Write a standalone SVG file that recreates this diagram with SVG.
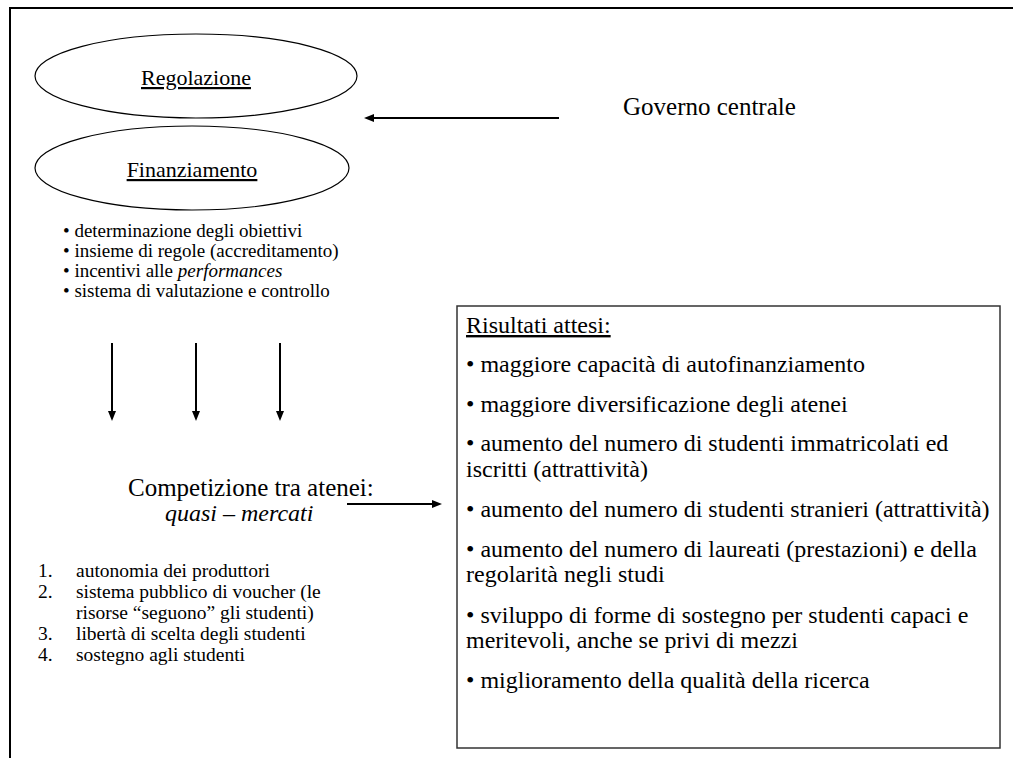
<svg xmlns="http://www.w3.org/2000/svg" width="1013" height="758" viewBox="0 0 1013 758" font-family="'Liberation Serif', 'DejaVu Serif', 'Times New Roman', serif">
<style>
text{font-family:'Liberation Serif','DejaVu Serif','Times New Roman',serif;fill:#000}
.ell{fill:none;stroke:#000;stroke-width:1.2}
.u{text-decoration:underline}
.b{font-size:19px}
.l{font-size:19.5px}
.r{font-size:24px}
.conn{stroke:#000;stroke-width:2;fill:none;marker-end:url(#ah)}
</style>
<defs>
<marker id="ah" markerUnits="userSpaceOnUse" markerWidth="10" markerHeight="8" refX="0" refY="4" orient="auto" viewBox="0 0 10 8">
<path d="M0,0 L10,4 L0,8 Z" fill="#000"/>
</marker>
</defs>
<rect width="1013" height="758" fill="#fff"/>
<path d="M10,758 V8 H1013" fill="none" stroke="#000" stroke-width="2"/>
<g id="regolazione">
<ellipse class="ell" cx="196" cy="76" rx="161" ry="42"/>
<text x="196" y="85" font-size="22" text-anchor="middle" class="u">Regolazione</text>
</g>
<g id="finanziamento">
<ellipse class="ell" cx="192" cy="168" rx="157" ry="42"/>
<text x="192" y="177" font-size="22" text-anchor="middle" class="u">Finanziamento</text>
</g>
<g id="strumenti">
<text class="b" x="63" y="237">• determinazione degli obiettivi</text>
<text class="b" x="63" y="257">• insieme di regole (accreditamento)</text>
<text class="b" x="63" y="277">• incentivi alle <tspan font-style="italic">performances</tspan></text>
<text class="b" x="63" y="297">• sistema di valutazione e controllo</text>
</g>
<g id="governo">
<text x="623" y="115" font-size="25">Governo centrale</text>
</g>
<g id="competizione">
<text x="128" y="496" font-size="25">Competizione tra atenei:</text>
<text x="165" y="521" font-size="24" font-style="italic">quasi – mercati</text>
</g>
<g id="elenco">
<text class="l" x="38" y="577">1.</text><text class="l" x="76" y="577">autonomia dei produttori</text>
<text class="l" x="38" y="598">2.</text><text class="l" x="76" y="598">sistema pubblico di voucher (le</text>
<text class="l" x="76" y="619">risorse “seguono” gli studenti)</text>
<text class="l" x="38" y="640">3.</text><text class="l" x="76" y="640">libertà di scelta degli studenti</text>
<text class="l" x="38" y="661">4.</text><text class="l" x="76" y="661">sostegno agli studenti</text>
</g>
<g id="risultati">
<rect x="457" y="306" width="543" height="442" fill="none" stroke="#333" stroke-width="1.5"/>
<text class="r u" x="466" y="333">Risultati attesi:</text>
<text class="r" x="466" y="372">• maggiore capacità di autofinanziamento</text>
<text class="r" x="466" y="412">• maggiore diversificazione degli atenei</text>
<text class="r" x="466" y="451">• aumento del numero di studenti immatricolati ed</text>
<text class="r" x="466" y="477">iscritti (attrattività)</text>
<text class="r" x="466" y="517">• aumento del numero di studenti stranieri (attrattività)</text>
<text class="r" x="466" y="557">• aumento del numero di laureati (prestazioni) e della</text>
<text class="r" x="466" y="582">regolarità negli studi</text>
<text class="r" x="466" y="623">• sviluppo di forme di sostegno per studenti capaci e</text>
<text class="r" x="466" y="648">meritevoli, anche se privi di mezzi</text>
<text class="r" x="466" y="688">• miglioramento della qualità della ricerca</text>
</g>
<g id="connectors">
<path class="conn" d="M559,118 H374"/>
<path class="conn" d="M112,343 V411"/>
<path class="conn" d="M196,343 V411"/>
<path class="conn" d="M280,343 V411"/>
<path class="conn" d="M347,504 H432"/>
</g>
</svg>
